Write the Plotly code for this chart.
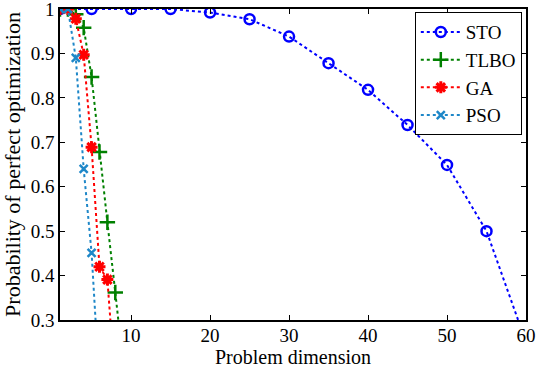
import plotly.graph_objects as go

# Data
sto_x = [1, 5, 10, 15, 20, 25, 30, 35, 40, 45, 50, 55, 60]
sto_y = [1.0, 1.0, 1.0, 1.0, 0.992, 0.977, 0.938, 0.878, 0.818, 0.739, 0.649, 0.5, 0.25]

tlbo_x = [1, 2, 3, 4, 5, 6, 7, 8, 9]
tlbo_y = [1.0, 1.0, 0.988, 0.958, 0.847, 0.678, 0.52, 0.362, 0.2]

ga_x = [1, 2, 3, 4, 5, 6, 7, 8]
ga_y = [1.0, 1.0, 0.978, 0.897, 0.689, 0.42, 0.391, 0.15]

pso_x = [1, 2, 3, 4, 5, 6]
pso_y = [1.0, 1.0, 0.89, 0.64, 0.451, 0.15]

x_ticks = [10, 20, 30, 40, 50, 60]
y_ticks = [0.3, 0.4, 0.5, 0.6, 0.7, 0.8, 0.9, 1.0]
y_ticktext = ["0.3", "0.4", "0.5", "0.6", "0.7", "0.8", "0.9", "1"]

FONT = "Times New Roman, Liberation Serif, DejaVu Serif, serif"

fig = go.Figure()

fig.add_trace(go.Scatter(
    x=sto_x, y=sto_y, name="STO", mode="lines+markers",
    line=dict(color="rgb(0,0,255)", width=2, dash="dot"),
    marker=dict(symbol="circle-open", size=10, color="rgb(0,0,255)", line=dict(width=2.5)),
))
fig.add_trace(go.Scatter(
    x=tlbo_x, y=tlbo_y, name="TLBO", mode="lines+markers",
    line=dict(color="rgb(0,128,0)", width=2, dash="dot"),
    marker=dict(symbol="cross-thin-open", size=11, color="rgb(0,128,0)", line=dict(width=2.5, color="rgb(0,128,0)")),
))
fig.add_trace(go.Scatter(
    x=ga_x, y=ga_y, name="GA", mode="lines+markers",
    line=dict(color="rgb(255,0,0)", width=2, dash="dot"),
    marker=dict(symbol="asterisk-open", size=10, color="rgb(255,0,0)", line=dict(width=3, color="rgb(255,0,0)")),
))
fig.add_trace(go.Scatter(
    x=pso_x, y=pso_y, name="PSO", mode="lines+markers",
    line=dict(color="rgb(30,135,200)", width=2, dash="dot"),
    marker=dict(symbol="x-thin-open", size=8, color="rgb(30,135,200)", line=dict(width=2.5, color="rgb(30,135,200)")),
))

axis_common = dict(
    showgrid=False, zeroline=False, showline=True, linecolor="black", linewidth=1.5,
    mirror="ticks", ticks="inside", ticklen=5, tickcolor="black", tickwidth=1,
    tickfont=dict(family=FONT, size=19, color="black"),
    ticklabeloverflow="allow", automargin=False,
)

fig.update_xaxes(
    range=[1, 60], tickvals=x_ticks, ticklabelstandoff=-3,
    title=dict(text="Problem dimension", font=dict(family=FONT, size=20, color="black"), standoff=2),
    **axis_common,
)
fig.update_yaxes(
    range=[0.3, 1.0], tickvals=y_ticks, ticktext=y_ticktext,
    title=dict(text="Probability of perfect optimization", font=dict(family=FONT, size=22, color="black"), standoff=4),
    **axis_common,
)

fig.update_layout(
    width=536, height=368,
    margin=dict(l=60, r=10, t=9, b=48),
    paper_bgcolor="white", plot_bgcolor="white",
    font=dict(family=FONT, color="black"),
    legend=dict(
        x=0.991, y=0.99, xanchor="right", yanchor="top",
        bgcolor="white", bordercolor="black", borderwidth=1,
        font=dict(family=FONT, size=19, color="black"),
        tracegroupgap=0, itemwidth=40,
    ),
    showlegend=True,
)

fig.write_html("out.html", config={"displayModeBar": False},
               post_script="document.body.style.margin='0px';")
